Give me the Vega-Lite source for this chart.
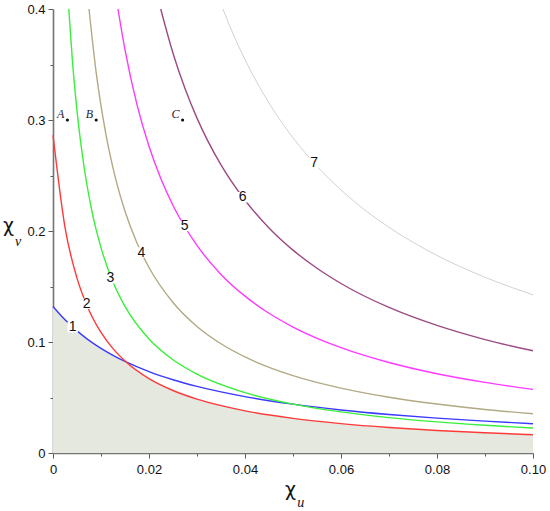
{
  "$schema": "https://vega.github.io/schema/vega-lite/v6.json",
  "width": 480,
  "height": 444,
  "autosize": {"type": "none"},
  "padding": {"left": 53, "top": 9, "right": 17, "bottom": 58},
  "background": "white",
  "config": {
    "view": {"stroke": null},
    "axis": {
      "grid": false,
      "zindex": 1,
      "labelFlush": false,
      "labelOverlap": false,
      "domainColor": "#747474",
      "domainWidth": 1.6,
      "tickColor": "#5a5a5a",
      "tickWidth": 1,
      "labelFont": "Liberation Sans",
      "labelFontSize": 13,
      "labelColor": "#111111",
      "titleFont": "DejaVu Sans",
      "titleFontSize": 19,
      "titleFontWeight": "normal",
      "titleColor": "#111111"
    }
  },
  "datasets": {
    "curves": [
      {"x": 0, "y": 0.132, "c": "1"}, {"x": 0.0025, "y": 0.12, "c": "1"}, {"x": 0.005, "y": 0.11, "c": "1"},
      {"x": 0.0075, "y": 0.1015, "c": "1"}, {"x": 0.01, "y": 0.0943, "c": "1"}, {"x": 0.0125, "y": 0.088, "c": "1"},
      {"x": 0.015, "y": 0.0825, "c": "1"}, {"x": 0.02, "y": 0.0733, "c": "1"}, {"x": 0.025, "y": 0.066, "c": "1"},
      {"x": 0.03, "y": 0.06, "c": "1"}, {"x": 0.04, "y": 0.0508, "c": "1"}, {"x": 0.05, "y": 0.044, "c": "1"},
      {"x": 0.06, "y": 0.0388, "c": "1"}, {"x": 0.07, "y": 0.0347, "c": "1"}, {"x": 0.08, "y": 0.0314, "c": "1"},
      {"x": 0.09, "y": 0.0287, "c": "1"}, {"x": 0.1, "y": 0.0264, "c": "1"},

      {"x": 0, "y": 0.2864, "c": "2"}, {"x": 0.0025, "y": 0.2033, "c": "2"}, {"x": 0.005, "y": 0.1575, "c": "2"},
      {"x": 0.0075, "y": 0.1286, "c": "2"}, {"x": 0.01, "y": 0.1086, "c": "2"}, {"x": 0.0125, "y": 0.094, "c": "2"},
      {"x": 0.015, "y": 0.0829, "c": "2"}, {"x": 0.02, "y": 0.067, "c": "2"}, {"x": 0.025, "y": 0.0563, "c": "2"},
      {"x": 0.03, "y": 0.0485, "c": "2"}, {"x": 0.04, "y": 0.038, "c": "2"}, {"x": 0.05, "y": 0.0312, "c": "2"},
      {"x": 0.06, "y": 0.0265, "c": "2"}, {"x": 0.07, "y": 0.023, "c": "2"}, {"x": 0.08, "y": 0.0203, "c": "2"},
      {"x": 0.09, "y": 0.0182, "c": "2"}, {"x": 0.1, "y": 0.0165, "c": "2"},

      {"x": 0.00329, "y": 0.4, "c": "3"}, {"x": 0.004, "y": 0.356, "c": "3"}, {"x": 0.005, "y": 0.3084, "c": "3"},
      {"x": 0.0065, "y": 0.257, "c": "3"}, {"x": 0.008, "y": 0.2202, "c": "3"}, {"x": 0.01, "y": 0.185, "c": "3"},
      {"x": 0.0125, "y": 0.1541, "c": "3"}, {"x": 0.015, "y": 0.1321, "c": "3"}, {"x": 0.02, "y": 0.1027, "c": "3"},
      {"x": 0.025, "y": 0.084, "c": "3"}, {"x": 0.03, "y": 0.0711, "c": "3"}, {"x": 0.04, "y": 0.0544, "c": "3"},
      {"x": 0.05, "y": 0.044, "c": "3"}, {"x": 0.06, "y": 0.037, "c": "3"}, {"x": 0.07, "y": 0.0319, "c": "3"},
      {"x": 0.08, "y": 0.028, "c": "3"}, {"x": 0.09, "y": 0.025, "c": "3"}, {"x": 0.1, "y": 0.0225, "c": "3"},

      {"x": 0.0075, "y": 0.4, "c": "4"}, {"x": 0.009, "y": 0.3426, "c": "4"}, {"x": 0.011, "y": 0.2877, "c": "4"},
      {"x": 0.013, "y": 0.2479, "c": "4"}, {"x": 0.015, "y": 0.2178, "c": "4"}, {"x": 0.0175, "y": 0.1891, "c": "4"},
      {"x": 0.02, "y": 0.1671, "c": "4"}, {"x": 0.025, "y": 0.1356, "c": "4"}, {"x": 0.03, "y": 0.114, "c": "4"},
      {"x": 0.035, "y": 0.0984, "c": "4"}, {"x": 0.04, "y": 0.0865, "c": "4"}, {"x": 0.05, "y": 0.0697, "c": "4"},
      {"x": 0.06, "y": 0.0584, "c": "4"}, {"x": 0.07, "y": 0.0502, "c": "4"}, {"x": 0.08, "y": 0.0441, "c": "4"},
      {"x": 0.09, "y": 0.0392, "c": "4"}, {"x": 0.1, "y": 0.0354, "c": "4"},

      {"x": 0.01353, "y": 0.4, "c": "5"}, {"x": 0.015, "y": 0.3632, "c": "5"}, {"x": 0.0175, "y": 0.3139, "c": "5"},
      {"x": 0.02, "y": 0.2763, "c": "5"}, {"x": 0.0225, "y": 0.2468, "c": "5"}, {"x": 0.025, "y": 0.223, "c": "5"},
      {"x": 0.03, "y": 0.187, "c": "5"}, {"x": 0.035, "y": 0.1609, "c": "5"}, {"x": 0.04, "y": 0.1413, "c": "5"},
      {"x": 0.045, "y": 0.1259, "c": "5"}, {"x": 0.05, "y": 0.1135, "c": "5"}, {"x": 0.06, "y": 0.0949, "c": "5"},
      {"x": 0.07, "y": 0.0815, "c": "5"}, {"x": 0.08, "y": 0.0714, "c": "5"}, {"x": 0.09, "y": 0.0636, "c": "5"},
      {"x": 0.1, "y": 0.0573, "c": "5"},

      {"x": 0.02244, "y": 0.4, "c": "6"}, {"x": 0.025, "y": 0.3602, "c": "6"}, {"x": 0.0275, "y": 0.3284, "c": "6"},
      {"x": 0.03, "y": 0.3017, "c": "6"}, {"x": 0.035, "y": 0.2595, "c": "6"}, {"x": 0.04, "y": 0.2277, "c": "6"},
      {"x": 0.045, "y": 0.2028, "c": "6"}, {"x": 0.05, "y": 0.1828, "c": "6"}, {"x": 0.055, "y": 0.1664, "c": "6"},
      {"x": 0.06, "y": 0.1527, "c": "6"}, {"x": 0.07, "y": 0.1311, "c": "6"}, {"x": 0.08, "y": 0.1149, "c": "6"},
      {"x": 0.09, "y": 0.1022, "c": "6"}, {"x": 0.1, "y": 0.0921, "c": "6"},

      {"x": 0.0354, "y": 0.4, "c": "7"}, {"x": 0.0375, "y": 0.3778, "c": "7"}, {"x": 0.04, "y": 0.3544, "c": "7"},
      {"x": 0.045, "y": 0.3153, "c": "7"}, {"x": 0.05, "y": 0.284, "c": "7"}, {"x": 0.055, "y": 0.2584, "c": "7"},
      {"x": 0.06, "y": 0.237, "c": "7"}, {"x": 0.065, "y": 0.2188, "c": "7"}, {"x": 0.07, "y": 0.2033, "c": "7"},
      {"x": 0.08, "y": 0.178, "c": "7"}, {"x": 0.09, "y": 0.1583, "c": "7"}, {"x": 0.1, "y": 0.1425, "c": "7"}
    ],
    "shade": [
      {"x": 0, "y": 0.132}, {"x": 0.0025, "y": 0.12}, {"x": 0.005, "y": 0.11}, {"x": 0.0075, "y": 0.1015},
      {"x": 0.01, "y": 0.0943}, {"x": 0.0125, "y": 0.088}, {"x": 0.0152, "y": 0.0821}, {"x": 0.02, "y": 0.067},
      {"x": 0.025, "y": 0.0563}, {"x": 0.03, "y": 0.0485}, {"x": 0.04, "y": 0.038}, {"x": 0.05, "y": 0.0312},
      {"x": 0.06, "y": 0.0265}, {"x": 0.07, "y": 0.023}, {"x": 0.08, "y": 0.0203}, {"x": 0.09, "y": 0.0182},
      {"x": 0.1, "y": 0.0165}
    ],
    "labels": [
      {"x": 0.0041, "y": 0.1134, "t": "1"},
      {"x": 0.007, "y": 0.1345, "t": "2"},
      {"x": 0.01195, "y": 0.1575, "t": "3"},
      {"x": 0.0184, "y": 0.1806, "t": "4"},
      {"x": 0.0274, "y": 0.2046, "t": "5"},
      {"x": 0.0395, "y": 0.2304, "t": "6"},
      {"x": 0.0544, "y": 0.2616, "t": "7"}
    ],
    "pts": [
      {"x": 0.003, "y": 0.3, "t": "A"},
      {"x": 0.009, "y": 0.3, "t": "B"},
      {"x": 0.027, "y": 0.3, "t": "C"}
    ],
    "subs": [
      {"x": 0.0516, "y": 0, "t": "u"},
      {"x": 0, "y": 0.2, "t": "v"}
    ]
  },
  "encoding": {
    "x": {
      "field": "x",
      "type": "quantitative",
      "scale": {"domain": [0, 0.1], "nice": false},
      "axis": {
        "values": [0, 0.01, 0.02, 0.03, 0.04, 0.05, 0.06, 0.07, 0.08, 0.09, 0.1],
        "labelExpr": "datum.value == 0 ? '0' : (round(datum.value * 100) % 2 == 0 ? format(datum.value, '.2f') : '')",
        "tickSize": {"condition": {"test": "round(datum.value * 100) % 2 == 0", "value": 5}, "value": 3},
        "labelPadding": 5,
        "title": "χ",
        "titleX": 237,
        "titleY": 42,
        "titleAlign": "center",
        "titleBaseline": "alphabetic"
      }
    },
    "y": {
      "field": "y",
      "type": "quantitative",
      "scale": {"domain": [0, 0.4], "nice": false},
      "axis": {
        "values": [0, 0.05, 0.1, 0.15, 0.2, 0.25, 0.3, 0.35, 0.4],
        "labelExpr": "datum.value == 0 ? '0' : (round(datum.value * 100) % 10 == 0 ? format(datum.value, '.1f') : '')",
        "tickSize": {"condition": {"test": "round(datum.value * 100) % 10 == 0", "value": 5}, "value": 3},
        "labelPadding": 3,
        "title": "χ",
        "titleAngle": 0,
        "titleX": -45,
        "titleY": 222,
        "titleAlign": "center",
        "titleBaseline": "alphabetic"
      }
    }
  },
  "layer": [
    {
      "data": {"name": "shade"},
      "mark": {"type": "area", "interpolate": "monotone", "color": "#e4e8df"}
    },
    {
      "data": {"name": "curves"},
      "mark": {"type": "line", "interpolate": "monotone"},
      "encoding": {
        "color": {
          "field": "c",
          "type": "nominal",
          "legend": null,
          "scale": {
            "domain": ["1", "2", "3", "4", "5", "6", "7"],
            "range": ["#3a3aff", "#ff3a3a", "#3aef3a", "#b2aa84", "#ff3aff", "#9c4a82", "#d2d2d2"]
          }
        },
        "strokeWidth": {"condition": {"test": "datum.c == '7'", "value": 1}, "value": 1.4},
        "detail": {"field": "c"}
      }
    },
    {
      "data": {"name": "labels"},
      "mark": {"type": "square", "color": "white", "opacity": 1, "size": 110, "filled": true}
    },
    {
      "data": {"name": "labels"},
      "mark": {"type": "text", "font": "Liberation Sans", "fontSize": 14, "color": "#111111", "align": "center", "baseline": "middle"},
      "encoding": {"text": {"field": "t"}}
    },
    {
      "data": {"name": "pts"},
      "mark": {"type": "circle", "color": "#111111", "size": 10, "opacity": 1}
    },
    {
      "data": {"name": "pts"},
      "mark": {"type": "text", "font": "Liberation Serif", "fontStyle": "italic", "fontSize": 12, "color": "#1c1c3a", "align": "right", "baseline": "alphabetic", "dx": -3, "dy": -2},
      "encoding": {"text": {"field": "t"}}
    },
    {
      "data": {"name": "subs"},
      "transform": [{"filter": "datum.t == 'u'"}],
      "mark": {"type": "text", "font": "Liberation Serif", "fontStyle": "italic", "fontSize": 14, "color": "#111111", "align": "center", "baseline": "alphabetic", "dy": 54},
      "encoding": {"text": {"field": "t"}}
    },
    {
      "data": {"name": "subs"},
      "transform": [{"filter": "datum.t == 'v'"}],
      "mark": {"type": "text", "font": "Liberation Serif", "fontStyle": "italic", "fontSize": 14, "color": "#111111", "align": "center", "baseline": "alphabetic", "dx": -35, "dy": 15},
      "encoding": {"text": {"field": "t"}}
    }
  ]
}
